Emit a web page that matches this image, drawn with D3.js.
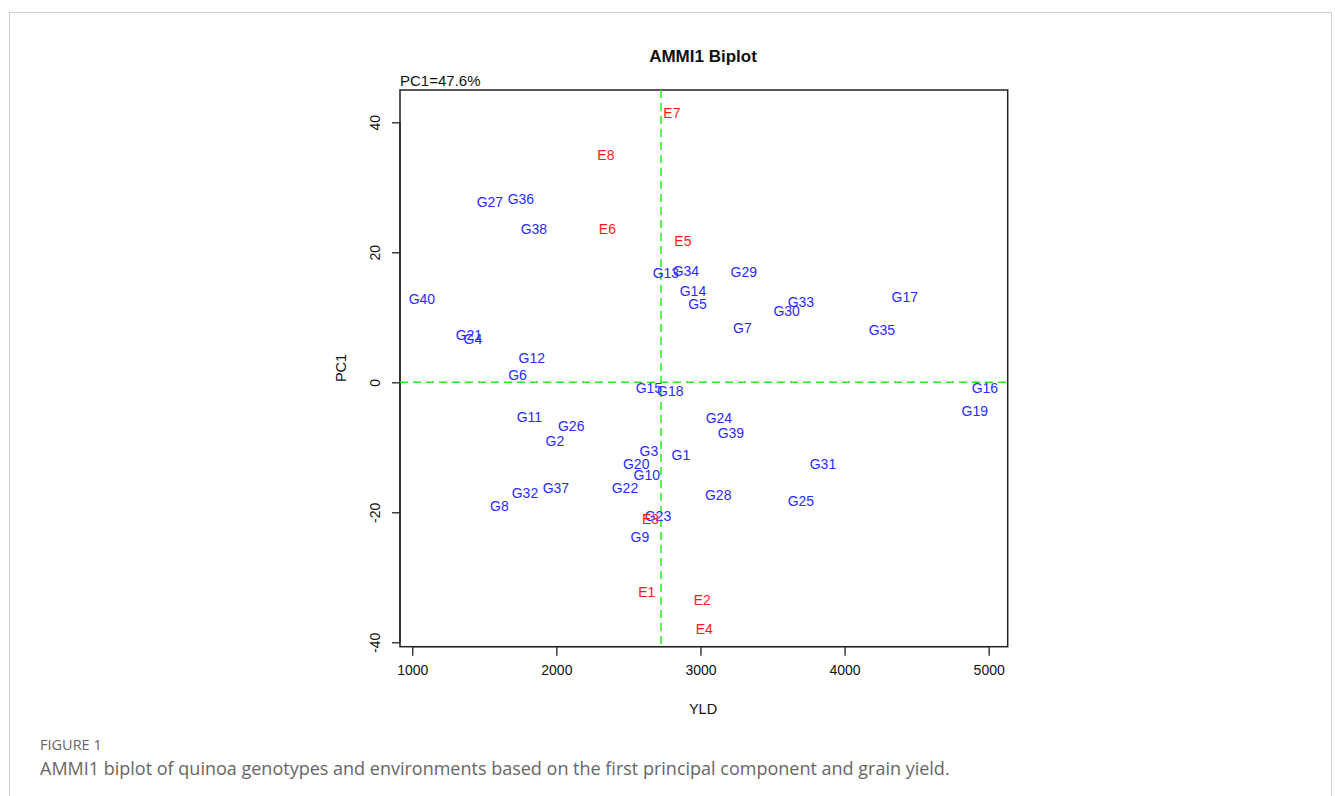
<!DOCTYPE html>
<html>
<head>
<meta charset="utf-8">
<script src="https://cdn.jsdelivr.net/npm/d3@7"></script>
<style>
  body { margin: 0; background: #fff; }
  svg text { font-family: "Liberation Sans", Arial, sans-serif; }
</style>
</head>
<body>
<script>
// genotypes: name, mean yield (YLD), PC1 score
const genotypes = ['G1','G2','G3','G4','G5','G6','G7','G8','G9','G10',
  'G11','G12','G13','G14','G15','G16','G17','G18','G19','G20',
  'G21','G22','G23','G24','G25','G26','G27','G28','G29','G30',
  'G31','G32','G33','G34','G35','G36','G37','G38','G39','G40'];
const genoYld = [2864, 1990, 2642, 1421, 2980, 1731, 3291, 1605, 2580, 2628,
  1813, 1830, 2760, 2948, 2642, 4974, 4418, 2791, 4904, 2554,
  1393, 2476, 2705, 3128, 3697, 2103, 1539, 3123, 3301, 3598,
  3850, 1782, 3697, 2899, 4259, 1754, 1997, 1844, 3211, 1067];
const genoPC1 = [-11.2, -9.1, -10.5, 6.6, 12.0, 1.1, 8.3, -19.0, -23.8, -14.2,
  -5.3, 3.7, 16.8, 14.0, -0.9, -0.8, 13.1, -1.3, -4.4, -12.6,
  7.3, -16.2, -20.6, -5.5, -18.3, -6.7, 27.7, -17.4, 17.0, 11.0,
  -12.6, -17.1, 12.3, 17.2, 8.1, 28.2, -16.2, 23.6, -7.8, 12.8];

// environments
const environments = ['E1','E2','E3','E4','E5','E6','E7','E8'];
const envYld = [2628, 3013, 2653, 3027, 2878, 2354, 2802, 2344];
const envPC1 = [-32.3, -33.5, -21.0, -37.9, 21.7, 23.6, 41.5, 35.0];

const grandMean = 2726;
const xTicks = [1000, 2000, 3000, 4000, 5000];
const yTicks = [-40, -20, 0, 20, 40];

const W = 1335, H = 796;
const svg = d3.select('body').append('svg')
  .attr('width', W)
  .attr('height', H);

// page frame
svg.append('rect')
  .attr('x', 9.5).attr('y', 12.5)
  .attr('width', 1322).attr('height', 800)
  .attr('fill', 'none')
  .attr('stroke', '#cfcfcf')
  .attr('stroke-width', 1);

const x = d3.scaleLinear().domain([915, 5132]).range([400, 1007.7]);
const y = d3.scaleLinear().domain([-40.68, 44.97]).range([646.7, 90]);
const fmt = d => String(d); // plain hyphen minus, like R

// axes (R style: axis line only spans first to last tick)
const xAxis = svg.append('g')
  .attr('transform', `translate(0,${y.range()[0]})`)
  .call(d3.axisBottom(x).tickValues(xTicks).tickSize(9).tickSizeOuter(0).tickPadding(9).tickFormat(fmt));
const yAxis = svg.append('g')
  .attr('transform', `translate(${x.range()[0]},0)`)
  .call(d3.axisLeft(y).tickValues(yTicks).tickSize(8).tickSizeOuter(0).tickFormat(fmt));

xAxis.select('.domain').remove();
yAxis.select('.domain').remove();
xAxis.append('line')
  .attr('x1', x(xTicks[0])).attr('x2', x(xTicks[xTicks.length - 1]))
  .attr('stroke', '#222').attr('stroke-width', 1.3);
yAxis.append('line')
  .attr('y1', y(yTicks[0])).attr('y2', y(yTicks[yTicks.length - 1]))
  .attr('stroke', '#222').attr('stroke-width', 1.3);

[xAxis, yAxis].forEach(g => {
  g.selectAll('.tick line').attr('stroke', '#222').attr('stroke-width', 1.3);
  g.selectAll('.tick text').attr('fill', '#111').style('font-size', '14px');
});
yAxis.selectAll('.tick text')
  .attr('x', null).attr('dy', null)
  .attr('text-anchor', 'middle')
  .attr('transform', 'translate(-20,0) rotate(-90)');

// plot box
svg.append('rect')
  .attr('x', x.range()[0]).attr('y', y.range()[1])
  .attr('width', x.range()[1] - x.range()[0])
  .attr('height', y.range()[0] - y.range()[1])
  .attr('fill', 'none')
  .attr('stroke', '#222')
  .attr('stroke-width', 1.5);

// reference lines
svg.append('line')
  .attr('x1', x.range()[0]).attr('x2', x.range()[1])
  .attr('y1', y(0)).attr('y2', y(0))
  .attr('stroke', '#22ee22').attr('stroke-width', 1.5)
  .attr('stroke-dasharray', '8,5');
svg.append('line')
  .attr('x1', x(grandMean)).attr('x2', x(grandMean))
  .attr('y1', y.range()[1]).attr('y2', y.range()[0])
  .attr('stroke', '#22ee22').attr('stroke-width', 1.5)
  .attr('stroke-dasharray', '8,5');

// genotype labels
svg.append('g').selectAll('text')
  .data(genotypes)
  .enter()
  .append('text')
  .attr('x', (d, i) => x(genoYld[i]))
  .attr('y', (d, i) => y(genoPC1[i]))
  .attr('dy', '0.36em')
  .attr('text-anchor', 'middle')
  .attr('fill', '#2a2aff')
  .style('font-size', '14px')
  .text(d => d);

// environment labels
svg.append('g').selectAll('text')
  .data(environments)
  .enter()
  .append('text')
  .attr('x', (d, i) => x(envYld[i]))
  .attr('y', (d, i) => y(envPC1[i]))
  .attr('dy', '0.36em')
  .attr('text-anchor', 'middle')
  .attr('fill', '#ff1a1a')
  .style('font-size', '14px')
  .text(d => d);

// titles
svg.append('text')
  .attr('x', 703).attr('y', 62)
  .attr('text-anchor', 'middle')
  .style('font-size', '17px').style('font-weight', 'bold')
  .attr('fill', '#111')
  .text('AMMI1 Biplot');
svg.append('text')
  .attr('x', 400).attr('y', 86)
  .style('font-size', '15px')
  .attr('fill', '#111')
  .text('PC1=47.6%');
svg.append('text')
  .attr('x', 703).attr('y', 714)
  .attr('text-anchor', 'middle')
  .style('font-size', '14.5px')
  .attr('fill', '#111')
  .text('YLD');
svg.append('text')
  .attr('transform', 'translate(346,368) rotate(-90)')
  .attr('text-anchor', 'middle')
  .style('font-size', '14.5px')
  .attr('fill', '#111')
  .text('PC1');

// caption
svg.append('text')
  .attr('x', 40).attr('y', 750)
  .style('font-family', '"Open Sans", sans-serif')
  .style('font-size', '14.5px')
  .attr('fill', '#666')
  .text('FIGURE 1');
svg.append('text')
  .attr('x', 40).attr('y', 775)
  .style('font-family', '"Open Sans", sans-serif')
  .style('font-size', '18px')
  .attr('fill', '#666')
  .text('AMMI1 biplot of quinoa genotypes and environments based on the first principal component and grain yield.');
</script>
</body>
</html>
